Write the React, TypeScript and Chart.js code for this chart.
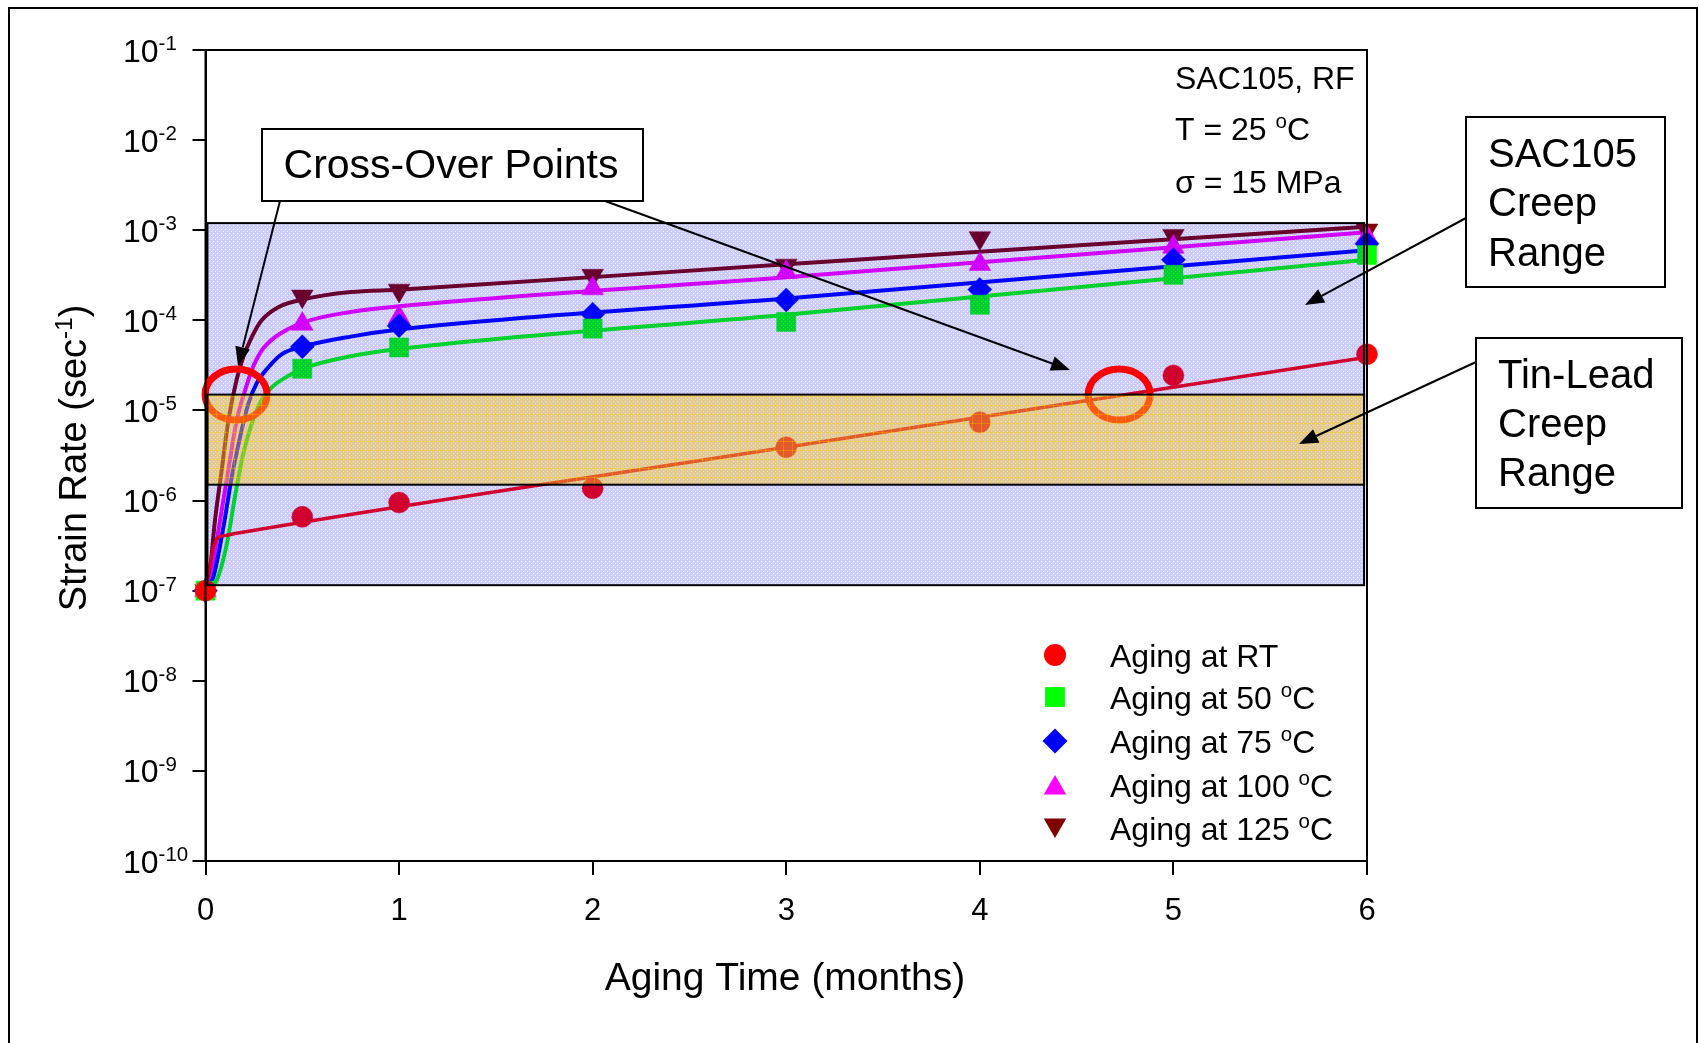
import React, { useEffect, useRef } from 'react';
import { Chart, registerables } from 'chart.js';

Chart.register(...registerables);

// ---------------- data ----------------
const agingMonths = [0, 0.5, 1, 2, 3, 4, 5, 6];
const rateRT = [1e-7, 6.6e-7, 9.5e-7, 1.37e-6, 3.9e-6, 7.4e-6, 2.45e-5, 4.2e-5];
const rate50 = [1e-7, 2.9e-5, 5.0e-5, 8.1e-5, 9.6e-5, 1.49e-4, 3.2e-4, 5.3e-4];
const rate75 = [1e-7, 5.1e-5, 8.7e-5, 1.17e-4, 1.68e-4, 2.2e-4, 4.7e-4, 7.1e-4];
const rate100 = [1e-7, 9.1e-5, 1.08e-4, 2.25e-4, 3.42e-4, 4.2e-4, 6.5e-4, 8.4e-4];
const rate125 = [1e-7, 1.85e-4, 2.15e-4, 3.14e-4, 4.07e-4, 8.2e-4, 8.7e-4, 1.0e-3];

const fitMonthsRT = [0, 0.02, 0.04, 0.066, 0.1, 0.152, 3, 6];
const fitRT = [1e-7, 1.7e-7, 3e-7, 3.9e-7, 4.1e-7, 4.3e-7, 3.9e-6, 3.9e-5];
const fitMonths50 = [0, 0.058, 0.11, 0.152, 0.195, 0.239, 0.28, 0.342, 0.41, 0.5, 0.75, 1, 3, 6];
const fit50 = [1e-7, 1.3e-7, 3.3e-7, 1.1e-6, 3.3e-6, 7.1e-6, 1.2e-5, 1.8e-5, 2.3e-5, 2.9e-5, 4.0e-5, 4.8e-5, 1.15e-4, 4.7e-4];
const fitMonths75 = [0, 0.04, 0.092, 0.135, 0.178, 0.221, 0.264, 0.324, 0.393, 0.5, 0.75, 1, 3, 6];
const fit75 = [1e-7, 1.4e-7, 5e-7, 1.8e-6, 5e-6, 1.18e-5, 2.0e-5, 3.0e-5, 4.2e-5, 5.1e-5, 6.6e-5, 7.9e-5, 1.75e-4, 6.0e-4];
const fitMonths100 = [0, 0.032, 0.075, 0.118, 0.161, 0.204, 0.239, 0.29, 0.359, 0.5, 0.75, 1, 3, 6];
const fit100 = [1e-7, 1.7e-7, 6e-7, 2.2e-6, 7.7e-6, 1.66e-5, 2.8e-5, 4.6e-5, 6.5e-5, 9.4e-5, 1.24e-4, 1.43e-4, 3.0e-4, 9.5e-4];
const fitMonths125 = [0, 0.023, 0.049, 0.084, 0.118, 0.161, 0.195, 0.239, 0.29, 0.376, 0.5, 0.75, 1, 3, 6];
const fit125 = [1e-7, 1.7e-7, 6e-7, 2.2e-6, 7.7e-6, 2.2e-5, 3.9e-5, 6.5e-5, 1e-4, 1.4e-4, 1.7e-4, 2.06e-4, 2.19e-4, 4.2e-4, 1.09e-3];

const seriesLabels = ['Aging at RT', 'Aging at 50 ^{o}C', 'Aging at 75 ^{o}C', 'Aging at 100 ^{o}C', 'Aging at 125 ^{o}C'];

const yTickValues = [1e-1, 1e-2, 1e-3, 1e-4, 1e-5, 1e-6, 1e-7, 1e-8, 1e-9, 1e-10];
const yTickLabels = ['10^{-1}', '10^{-2}', '10^{-3}', '10^{-4}', '10^{-5}', '10^{-6}', '10^{-7}', '10^{-8}', '10^{-9}', '10^{-10}'];

const sacRange = [1.15e-7, 1.2e-3];
const tinLeadRange = [1.5e-6, 1.5e-5];
const bandMonths = [0.01, 5.985];
const crossMonths = [0.158, 4.72];
const crossRates = [1.5e-5, 1.5e-5];

const infoLines = ['SAC105, RF', 'T = 25 ^{o}C', '\u03c3 = 15 MPa'];
const xTitle = 'Aging Time (months)';
const yTitle = 'Strain Rate (sec^{-1})';
const crossLabel = 'Cross-Over Points';
const sacLabel = ['SAC105', 'Creep', 'Range'];
const tinLabel = ['Tin-Lead', 'Creep', 'Range'];

// ---------------- styles ----------------
const W = 1699;
const H = 1043;
const FONT = '"Liberation Sans", Arial, Helvetica, sans-serif';
const colors = ['#ff0000', '#00ff00', '#0000ff', '#ff00ff', '#800000'];
const pointStyles = ['circle', 'rect', 'rectRot', 'triangle', 'triangle'];
const rotations = [0, 0, 0, 0, 180];
const radii = [10.5, 13.5, 12, 12.5, 12.5];

type Part = { t: string; sup: boolean };
function parseRich(s: string): Part[] {
  const parts: Part[] = [];
  const re = /\^\{([^}]*)\}/g;
  let last = 0;
  let m: RegExpExecArray | null;
  while ((m = re.exec(s)) !== null) {
    if (m.index > last) parts.push({ t: s.slice(last, m.index), sup: false });
    parts.push({ t: m[1], sup: true });
    last = m.index + m[0].length;
  }
  if (last < s.length) parts.push({ t: s.slice(last), sup: false });
  return parts;
}
function richWidth(ctx: CanvasRenderingContext2D, s: string, size: number) {
  let w = 0;
  for (const p of parseRich(s)) {
    ctx.font = `${p.sup ? size * 0.64 : size}px ${FONT}`;
    w += ctx.measureText(p.t).width;
  }
  return w;
}
function drawRich(ctx: CanvasRenderingContext2D, s: string, x: number, y: number, size: number, align: 'left' | 'center' = 'left') {
  let cx = x;
  if (align === 'center') cx = x - richWidth(ctx, s, size) / 2;
  ctx.textAlign = 'left';
  ctx.textBaseline = 'alphabetic';
  for (const p of parseRich(s)) {
    ctx.font = `${p.sup ? size * 0.64 : size}px ${FONT}`;
    ctx.fillText(p.t, cx, p.sup ? y - size * 0.36 : y);
    cx += ctx.measureText(p.t).width;
  }
}
function drawMarker(ctx: CanvasRenderingContext2D, style: string, rotDeg: number, x: number, y: number, r: number, color: string) {
  ctx.beginPath();
  if (style === 'circle') {
    ctx.arc(x, y, r, 0, Math.PI * 2);
  } else if (style === 'rect') {
    const s = r * Math.SQRT1_2;
    ctx.rect(x - s, y - s, 2 * s, 2 * s);
  } else if (style === 'rectRot') {
    ctx.moveTo(x, y - r);
    ctx.lineTo(x + r, y);
    ctx.lineTo(x, y + r);
    ctx.lineTo(x - r, y);
    ctx.closePath();
  } else {
    let a = (rotDeg * Math.PI) / 180;
    ctx.moveTo(x + Math.sin(a) * r, y - Math.cos(a) * r);
    a += (2 * Math.PI) / 3;
    ctx.lineTo(x + Math.sin(a) * r, y - Math.cos(a) * r);
    a += (2 * Math.PI) / 3;
    ctx.lineTo(x + Math.sin(a) * r, y - Math.cos(a) * r);
    ctx.closePath();
  }
  ctx.fillStyle = color;
  ctx.fill();
}
function arrow(ctx: CanvasRenderingContext2D, x0: number, y0: number, x1: number, y1: number) {
  const ang = Math.atan2(y1 - y0, x1 - x0);
  const L = 19;
  const hw = 7.5;
  const bx = x1 - Math.cos(ang) * L;
  const by = y1 - Math.sin(ang) * L;
  ctx.strokeStyle = '#000';
  ctx.lineWidth = 2;
  ctx.beginPath();
  ctx.moveTo(x0, y0);
  ctx.lineTo(bx, by);
  ctx.stroke();
  ctx.fillStyle = '#000';
  ctx.beginPath();
  ctx.moveTo(x1, y1);
  ctx.lineTo(bx + Math.sin(ang) * hw, by - Math.cos(ang) * hw);
  ctx.lineTo(bx - Math.sin(ang) * hw, by + Math.cos(ang) * hw);
  ctx.closePath();
  ctx.fill();
}

let bluePat: CanvasPattern | null = null;
let yellowPat: CanvasPattern | null = null;
function patterns(ctx: CanvasRenderingContext2D) {
  if (!bluePat) {
    const c = document.createElement('canvas');
    c.width = 4;
    c.height = 4;
    const g = c.getContext('2d')!;
    g.fillStyle = 'rgba(0,0,255,0.2)';
    g.fillRect(0, 0, 4, 4);
    g.clearRect(1, 1, 1, 1);
    g.clearRect(3, 3, 1, 1);
    g.fillStyle = 'rgba(0,0,255,0.06)';
    g.fillRect(3, 3, 1, 1);
    bluePat = ctx.createPattern(c, 'repeat');
  }
  if (!yellowPat) {
    const c = document.createElement('canvas');
    c.width = 9;
    c.height = 9;
    const g = c.getContext('2d')!;
    g.fillStyle = 'rgba(246,196,40,0.46)';
    g.fillRect(0, 0, 9, 9);
    g.clearRect(0, 0, 9, 1);
    g.clearRect(0, 0, 1, 9);
    g.fillStyle = 'rgba(255,204,0,0.6)';
    g.fillRect(0, 0, 9, 1);
    g.fillRect(0, 0, 1, 9);
    yellowPat = ctx.createPattern(c, 'repeat');
  }
  return { bluePat: bluePat!, yellowPat: yellowPat! };
}

const overlayPlugin = {
  id: 'overlay',
  afterDatasetsDraw(chart: any) {
    const { ctx } = chart;
    const xs = chart.scales.x;
    const ys = chart.scales.y;
    const { bluePat: bp, yellowPat: yp } = patterns(ctx);
    ctx.save();
    const bx0 = xs.getPixelForValue(bandMonths[0]);
    const bx1 = xs.getPixelForValue(bandMonths[1]);
    // SAC105 creep range
    const sTop = ys.getPixelForValue(sacRange[1]);
    const sBot = ys.getPixelForValue(sacRange[0]);
    ctx.fillStyle = bp;
    ctx.fillRect(bx0, sTop, bx1 - bx0, sBot - sTop);
    ctx.strokeStyle = '#000';
    ctx.lineWidth = 2;
    ctx.strokeRect(bx0, sTop, bx1 - bx0, sBot - sTop);
    // cross-over ellipses
    ctx.strokeStyle = '#ff0000';
    ctx.lineWidth = 7;
    crossMonths.forEach((m, i) => {
      ctx.beginPath();
      ctx.ellipse(xs.getPixelForValue(m), ys.getPixelForValue(crossRates[i]), 31, 25.5, 0, 0, Math.PI * 2);
      ctx.stroke();
    });
    // tin-lead creep range
    const tTop = ys.getPixelForValue(tinLeadRange[1]);
    const tBot = ys.getPixelForValue(tinLeadRange[0]);
    ctx.fillStyle = yp;
    ctx.fillRect(bx0, tTop, bx1 - bx0, tBot - tTop);
    ctx.strokeStyle = '#000';
    ctx.lineWidth = 2;
    ctx.strokeRect(bx0, tTop, bx1 - bx0, tBot - tTop);
    ctx.restore();
  },
  afterDraw(chart: any) {
    const { ctx, chartArea: ca } = chart;
    const ys = chart.scales.y;
    ctx.save();
    // plot frame
    ctx.strokeStyle = '#000';
    ctx.lineWidth = 2;
    ctx.beginPath();
    ctx.moveTo(ca.left, ca.bottom);
    ctx.lineTo(ca.left, ca.top);
    ctx.lineTo(ca.right, ca.top);
    ctx.lineTo(ca.right, ca.bottom);
    ctx.stroke();
    // outer picture frame
    ctx.beginPath();
    ctx.moveTo(9, H);
    ctx.lineTo(9, 8);
    ctx.lineTo(W - 2, 8);
    ctx.lineTo(W - 2, H);
    ctx.stroke();

    // y tick labels
    yTickValues.forEach((v, i) => {
      const py = ys.getPixelForValue(v);
      ctx.fillStyle = '#000';
      drawRich(ctx, yTickLabels[i], 123, py + 11.5, 32);
    });
    // axis titles
    ctx.fillStyle = '#000';
    drawRich(ctx, xTitle, 785, 990, 39, 'center');
    ctx.save();
    ctx.translate(86, 458);
    ctx.rotate(-Math.PI / 2);
    drawRich(ctx, yTitle, 0, 0, 38, 'center');
    ctx.restore();

    // info text
    const infoBase = [89, 140, 193];
    infoLines.forEach((s, i) => {
      ctx.fillStyle = '#000';
      drawRich(ctx, s, 1175, infoBase[i], 32);
    });

    // arrows
    arrow(ctx, 280, 201, 238, 366);
    arrow(ctx, 605, 201, 1070, 370);
    arrow(ctx, 1466, 218, 1305, 305);
    arrow(ctx, 1476, 362, 1299, 444);

    // boxes
    const box = (x0: number, y0: number, x1: number, y1: number) => {
      ctx.fillStyle = '#fff';
      ctx.fillRect(x0, y0, x1 - x0, y1 - y0);
      ctx.strokeStyle = '#000';
      ctx.lineWidth = 2;
      ctx.strokeRect(x0, y0, x1 - x0, y1 - y0);
    };
    box(262, 129, 643, 201);
    ctx.fillStyle = '#000';
    drawRich(ctx, crossLabel, 451, 178, 41, 'center');
    box(1466, 117, 1665, 287);
    [167, 216, 266].forEach((b, i) => {
      ctx.fillStyle = '#000';
      drawRich(ctx, sacLabel[i], 1488, b, 40);
    });
    box(1476, 338, 1682, 508);
    [388, 437, 486].forEach((b, i) => {
      ctx.fillStyle = '#000';
      drawRich(ctx, tinLabel[i], 1498, b, 40);
    });

    // legend
    const legBase = [667, 709, 753, 797, 840];
    seriesLabels.forEach((s, i) => {
      const cy = legBase[i] - 12;
      const off = pointStyles[i] === 'triangle' ? (rotations[i] ? -3 : 3) : 0;
      drawMarker(ctx, pointStyles[i], rotations[i], 1055, cy + off, radii[i] + 0.5, colors[i]);
      ctx.fillStyle = '#000';
      drawRich(ctx, s, 1110, legBase[i], 32);
    });
    ctx.restore();
  },
};

function xy(xsArr: number[], ysArr: number[]) {
  return xsArr.map((x, i) => ({ x, y: ysArr[i] }));
}

export default function App() {
  const ref = useRef<HTMLCanvasElement | null>(null);
  useEffect(() => {
    if (!ref.current) return;
    const measured = [rateRT, rate50, rate75, rate100, rate125];
    const fitsX = [fitMonthsRT, fitMonths50, fitMonths75, fitMonths100, fitMonths125];
    const fitsY = [fitRT, fit50, fit75, fit100, fit125];
    const pointSets = measured.map((arr, i) => ({
      label: seriesLabels[i],
      data: xy(agingMonths, arr),
      showLine: false,
      pointStyle: pointStyles[i],
      rotation: rotations[i],
      pointRadius: radii[i],
      pointHoverRadius: radii[i],
      backgroundColor: colors[i],
      borderColor: colors[i],
      borderWidth: 0.5,
      clip: false as any,
    }));
    const fitSets = fitsX.map((fx, i) => ({
      label: seriesLabels[i] + ' fit',
      data: xy(fx, fitsY[i]),
      showLine: true,
      pointRadius: 0,
      borderColor: colors[i],
      borderWidth: i === 0 ? 3.5 : 4,
      cubicInterpolationMode: 'monotone' as const,
      fill: false,
    }));
    const chart = new Chart(ref.current, {
      type: 'scatter',
      data: { datasets: [...pointSets, ...fitSets] as any },
      options: {
        animation: false,
        responsive: false,
        devicePixelRatio: 1,
        events: [],
        layout: { padding: { left: 0, top: 50, right: W - 1367, bottom: 0 } },
        plugins: { legend: { display: false }, tooltip: { enabled: false }, title: { display: false } },
        scales: {
          x: {
            type: 'linear',
            min: 0,
            max: 6,
            ticks: {
              stepSize: 1,
              color: '#000',
              font: { family: FONT, size: 31 },
              padding: 18,
              maxRotation: 0,
              autoSkip: false,
            },
            grid: { display: true, drawOnChartArea: false, drawTicks: true, tickLength: 14, color: '#000', lineWidth: 2 },
            border: { display: true, color: '#000', width: 2 },
            afterFit: (s: any) => {
              s.height = H - 861;
            },
          },
          y: {
            type: 'logarithmic',
            min: 1e-10,
            max: 1e-1,
            afterBuildTicks: (s: any) => {
              s.ticks = yTickValues.map((v) => ({ value: v }));
            },
            ticks: { display: false },
            grid: { display: true, drawOnChartArea: false, drawTicks: true, tickLength: 13, color: '#000', lineWidth: 2 },
            border: { display: true, color: '#000', width: 2 },
            afterFit: (s: any) => {
              s.width = 205.5;
            },
          },
        },
      } as any,
      plugins: [overlayPlugin],
    });
    return () => chart.destroy();
  }, []);
  return (
    <div style={{ position: 'absolute', left: 0, top: 0, width: W, height: H, background: '#fff' }}>
      <canvas ref={ref} width={W} height={H} style={{ display: 'block', width: W, height: H }} />
    </div>
  );
}
